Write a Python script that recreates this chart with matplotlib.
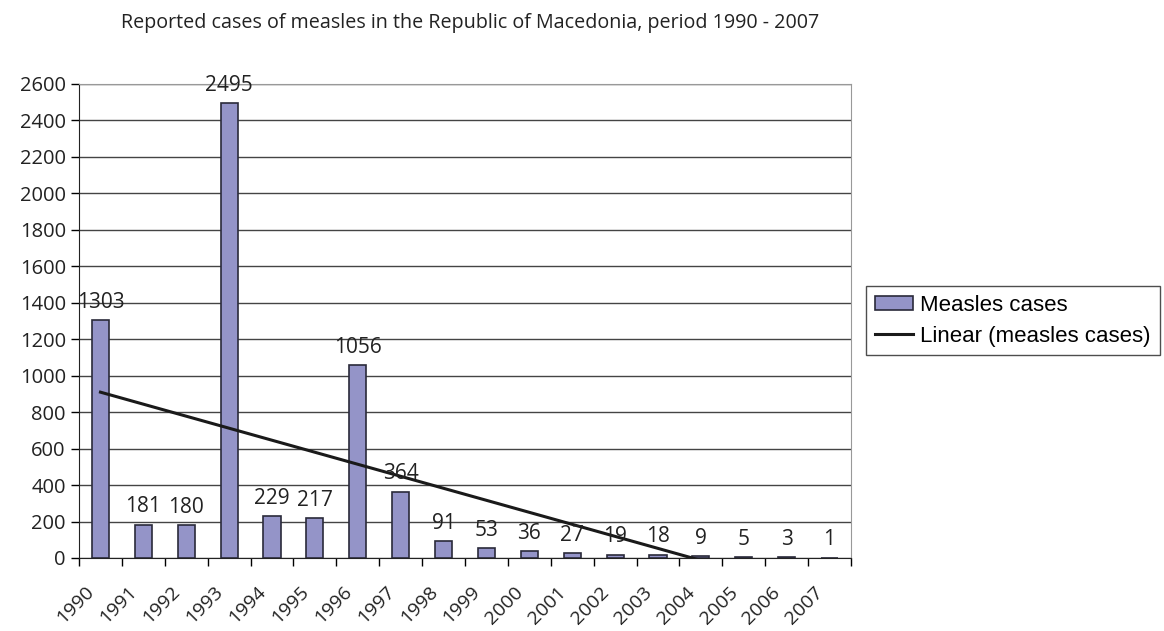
import numpy as np
import matplotlib.pyplot as plt
import matplotlib.transforms as mtransforms
from matplotlib.patches import Patch
from matplotlib.lines import Line2D

plt.rcParams["font.family"] = ["Open Sans", "DejaVu Sans"]

years = ["1990", "1991", "1992", "1993", "1994", "1995", "1996", "1997", "1998",
         "1999", "2000", "2001", "2002", "2003", "2004", "2005", "2006", "2007"]
cases = [1303, 181, 180, 2495, 229, 217, 1056, 364, 91,
         53, 36, 27, 19, 18, 9, 5, 3, 1]

bar_color = "#9494c8"
x = np.arange(len(years))
# linear trend line, as in the spreadsheet
slope, intercept = np.polyfit(x, cases, 1)
trend = slope * x + intercept

fig = plt.figure(figsize=(11.64, 6.31), dpi=100)
ax = fig.add_axes([0.0679, 0.1157, 0.6632, 0.7512])

ax.bar(x, cases, width=0.4, color=bar_color, edgecolor="#2a2a3a", linewidth=1.2, zorder=3)
ax.plot(x, trend, color="#1a1a1a", linewidth=2.2, zorder=4)

for xi, v in zip(x, cases):
    ax.annotate(str(v), (xi, v), xytext=(0, 9), textcoords="offset points",
                ha="center", va="baseline", fontsize=15, color="#222222", zorder=5)

ax.set_xlim(-0.5, len(years) - 0.5)
ax.set_ylim(0, 2600)
ax.set_yticks(np.arange(0, 2601, 200))
ax.tick_params(axis="y", labelsize=14.5, length=6, width=1, direction="out",
               labelcolor="#222222")
ax.yaxis.grid(True, color="#444444", linewidth=1, zorder=0)

ax.set_xticks(np.arange(-0.5, len(years), 1))
ax.set_xticklabels([])
ax.tick_params(axis="x", length=6, width=1, direction="out")
ax.set_xticks(x, minor=True)
ax.set_xticklabels(years, minor=True, rotation=45, ha="right", rotation_mode="anchor",
                   fontsize=14, color="#222222")
ax.tick_params(axis="x", which="minor", length=0, pad=18)
shift = mtransforms.ScaledTranslation(-11 / 72, 0, fig.dpi_scale_trans)
for lbl in ax.get_xticklabels(minor=True):
    lbl.set_transform(lbl.get_transform() + shift)

for s in ["top", "right"]:
    ax.spines[s].set_color("#999999")
ax.spines["left"].set_color("#222222")
ax.spines["bottom"].set_color("#222222")

fig.text(0.404, 0.963, "Reported cases of measles in the Republic of Macedonia, period 1990 - 2007",
         ha="center", va="center", fontsize=14.2, color="#222222")

handles = [Patch(facecolor=bar_color, edgecolor="#2a2a3a", linewidth=1.2),
           Line2D([0], [0], color="#1a1a1a", linewidth=2.2)]
fig.legend(handles, ["Measles cases", "Linear (measles cases)"],
           loc="center left", bbox_to_anchor=(0.744, 0.492), frameon=True, fancybox=False,
           edgecolor="#222222", prop={"family": "Liberation Sans", "size": 16},
           handlelength=1.7, handleheight=0.6, handletextpad=0.35, borderpad=0.4,
           labelspacing=0.45, borderaxespad=0)

fig.savefig("out.png", dpi=100)
